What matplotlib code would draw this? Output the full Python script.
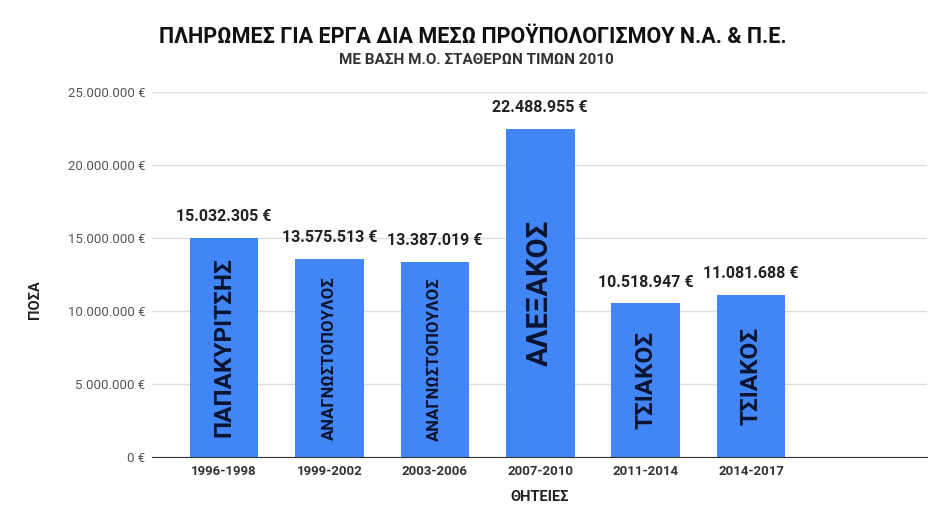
import matplotlib.pyplot as plt
from matplotlib.ticker import FuncFormatter

# terms and payments (constant 2010 prices)
terms = ["1996-1998", "1999-2002", "2003-2006", "2007-2010", "2011-2014", "2014-2017"]
payments = [15032305, 13575513, 13387019, 22488955, 10518947, 11081688]
prefects = ["ΠΑΠΑΚΥΡΙΤΣΗΣ", "ΑΝΑΓΝΩΣΤΟΠΟΥΛΟΣ", "ΑΝΑΓΝΩΣΤΟΠΟΥΛΟΣ", "ΑΛΕΞΑΚΟΣ", "ΤΣΙΑΚΟΣ", "ΤΣΙΑΚΟΣ"]
name_sizes = [17.5, 12, 12, 21, 17.5, 17.5]
name_weights = ["bold", "bold", "bold", "bold", "bold", "bold"]

plt.rcParams['font.family'] = ['Roboto', 'DejaVu Sans']


def euro(v):
    # greek style thousands separator
    return f"{int(v):,}".replace(",", ".") + " €"


fig = plt.figure(figsize=(9.52, 5.29), dpi=100)
ax = fig.add_axes([0.16, 0.136, 0.814, 0.69])

x = list(range(len(terms)))
ax.bar(x, payments, width=0.65, color="#4285f4", zorder=3)

# value labels above bars
for xi, v in zip(x, payments):
    ax.annotate(euro(v), (xi, v), xytext=(0, 10), textcoords="offset points",
                ha="center", va="bottom", fontsize=11.5, fontweight="bold", color="#222222")

# names written inside bars
for xi, v, name, fs, fw in zip(x, payments, prefects, name_sizes, name_weights):
    ax.text(xi, v / 2, name, rotation=90, ha="center", va="center",
            fontsize=fs, fontweight=fw, color="#0b1430", zorder=4)

ax.set_xlim(-0.68, 6.67)
ax.set_ylim(0, 25000000)
ax.set_yticks([0, 5000000, 10000000, 15000000, 20000000, 25000000])
ax.yaxis.set_major_formatter(FuncFormatter(lambda v, p: euro(v)))
ax.set_xticks(x)
ax.set_xticklabels(terms, fontsize=9.5, fontweight="bold", color="#333333")
ax.tick_params(axis="y", length=0, pad=5, labelsize=9.5, labelcolor="#555555")
ax.tick_params(axis="x", length=0, pad=6)
ax.grid(axis="y", color="#dddddd", linewidth=1, zorder=0)
for side in ["top", "right", "left"]:
    ax.spines[side].set_visible(False)
ax.spines["bottom"].set_color("#333333")
ax.spines["bottom"].set_zorder(5)

fig.text(0.497, 0.930, "ΠΛΗΡΩΜΕΣ ΓΙΑ ΕΡΓΑ ΔΙΑ ΜΕΣΩ ΠΡΟΫΠΟΛΟΓΙΣΜΟΥ Ν.Α. & Π.Ε.",
         ha="center", va="center", fontsize=15.5, fontweight="bold", color="#111111")
fig.text(0.500, 0.887, "ΜΕ ΒΑΣΗ Μ.Ο. ΣΤΑΘΕΡΩΝ ΤΙΜΩΝ 2010",
         ha="center", va="center", fontsize=11, fontweight="bold", color="#333333")
fig.text(0.037, 0.433, "ΠΟΣΑ", rotation=90, ha="center", va="center",
         fontsize=10.5, fontweight="bold", color="#222222")
fig.text(0.567, 0.06, "ΘΗΤΕΙΕΣ", ha="center", va="center",
         fontsize=10.5, fontweight="bold", color="#222222")

fig.savefig("out.png", dpi=100)
